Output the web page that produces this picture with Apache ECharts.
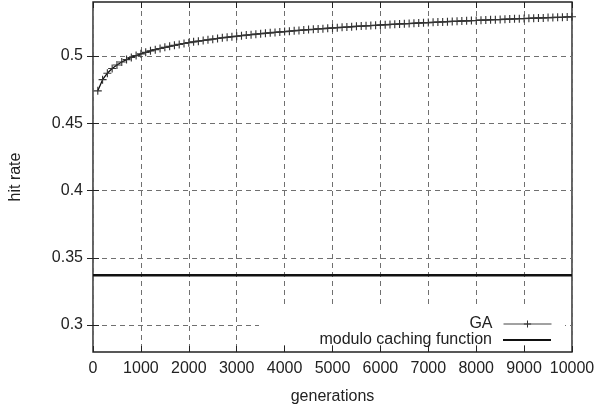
<!DOCTYPE html>
<html lang="en">
<head>
<meta charset="UTF-8">
<title>hit rate</title>
<script src="https://cdn.jsdelivr.net/npm/echarts@6/dist/echarts.min.js"></script>
<style>
  html, body { margin: 0; padding: 0; background: #fff; }
</style>
</head>
<body>
<div id="chartmain" style="width:598px; height:406px;"></div>
<script type="text/javascript">

    // generations (x) of the GA samples
    var generations = [
        100, 200, 300, 400, 500, 600, 700, 800, 900, 1000,
        1100, 1200, 1300, 1400, 1500, 1600, 1700, 1800, 1900, 2000,
        2100, 2200, 2300, 2400, 2500, 2600, 2700, 2800, 2900, 3000,
        3100, 3200, 3300, 3400, 3500, 3600, 3700, 3800, 3900, 4000,
        4100, 4200, 4300, 4400, 4500, 4600, 4700, 4800, 4900, 5000,
        5100, 5200, 5300, 5400, 5500, 5600, 5700, 5800, 5900, 6000,
        6100, 6200, 6300, 6400, 6500, 6600, 6700, 6800, 6900, 7000,
        7100, 7200, 7300, 7400, 7500, 7600, 7700, 7800, 7900, 8000,
        8100, 8200, 8300, 8400, 8500, 8600, 8700, 8800, 8900, 9000,
        9100, 9200, 9300, 9400, 9500, 9600, 9700, 9800, 9900, 10000
    ];
    // GA hit rate
    var gaHitRate = [
        0.4740, 0.4823, 0.4871, 0.4906, 0.4932, 0.4954, 0.4972, 0.4988, 0.5002, 0.5015,
        0.5026, 0.5037, 0.5046, 0.5055, 0.5063, 0.5071, 0.5078, 0.5085, 0.5092, 0.5098,
        0.5104, 0.5109, 0.5114, 0.5119, 0.5124, 0.5129, 0.5134, 0.5138, 0.5142, 0.5146,
        0.5150, 0.5154, 0.5157, 0.5161, 0.5165, 0.5168, 0.5171, 0.5174, 0.5177, 0.5180,
        0.5183, 0.5186, 0.5189, 0.5192, 0.5195, 0.5197, 0.5200, 0.5202, 0.5205, 0.5207,
        0.5209, 0.5212, 0.5214, 0.5216, 0.5219, 0.5221, 0.5223, 0.5225, 0.5227, 0.5229,
        0.5231, 0.5233, 0.5235, 0.5237, 0.5238, 0.5240, 0.5242, 0.5244, 0.5246, 0.5247,
        0.5249, 0.5251, 0.5252, 0.5254, 0.5256, 0.5257, 0.5259, 0.5260, 0.5262, 0.5263,
        0.5265, 0.5266, 0.5268, 0.5269, 0.5270, 0.5272, 0.5273, 0.5275, 0.5276, 0.5277,
        0.5279, 0.5280, 0.5281, 0.5282, 0.5284, 0.5285, 0.5286, 0.5287, 0.5289, 0.5290
    ];
    // modulo caching function (constant)
    var moduloX = [0, 10000];
    var moduloHitRate = [0.337, 0.337];

    var yTicks = [0.3, 0.35, 0.4, 0.45, 0.5];

    var gaData = [];
    for (var i = 0; i < generations.length; i++) {
        gaData.push([generations[i], gaHitRate[i]]);
    }
    var moduloData = [];
    for (var j = 0; j < moduloX.length; j++) {
        moduloData.push([moduloX[j], moduloHitRate[j]]);
    }

    var font = "'Liberation Sans', Arial, sans-serif";
    var gridDash = { color: '#707070', type: [5, 4], width: 1 };
    var plus = 'path://M4.3,0h1.4v4.3h4.3v1.4h-4.3v4.3h-1.4v-4.3h-4.3v-1.4h4.3z';

    var option = {
        animation: false,
        backgroundColor: '#fff',
        textStyle: { fontFamily: font },
        grid: {
            left: 93, right: 26, top: 2, bottom: 54,
            outerBoundsMode: 'none',
            show: true, borderColor: '#222', borderWidth: 1.4,
            backgroundColor: 'transparent'
        },
        legend: [{
            data: ['GA'],
            right: 46, top: 316,
            align: 'right', padding: 0, itemWidth: 48, itemHeight: 9,
            textStyle: { fontFamily: font, fontSize: 16, color: '#222', padding: [0, 6, 0, 0] },
            lineStyle: { width: 1, color: '#444' },
            z: 10
        }, {
            data: ['modulo caching function'],
            right: 46, top: 332,
            align: 'right', padding: 0, itemWidth: 48, itemHeight: 9,
            textStyle: { fontFamily: font, fontSize: 16, color: '#222', padding: [0, 6, 0, 0] },
            itemStyle: { opacity: 0 },
            z: 10
        }],
        graphic: [{
            type: 'rect', z: 5,
            shape: { x: 259, y: 308, width: 306, height: 37 },
            style: { fill: '#fff' }
        }],
        xAxis: [{
            type: 'value', min: 0, max: 10000, interval: 1000,
            name: 'generations', nameLocation: 'middle', nameGap: 37,
            nameTextStyle: { fontFamily: font, fontSize: 16, color: '#222' },
            axisLine: { show: false },
            axisTick: { show: true, inside: true, length: 6, lineStyle: { color: '#222' } },
            axisLabel: {
                fontFamily: font, fontSize: 16, color: '#222', margin: 9,
                formatter: function (v) { return String(v); }
            },
            splitLine: { show: true, lineStyle: gridDash }
        }, {
            type: 'value', min: 0, max: 10000, interval: 1000, position: 'top',
            axisLine: { show: false },
            axisTick: { show: true, inside: true, length: 6, lineStyle: { color: '#222' } },
            axisLabel: { show: false },
            splitLine: { show: false }
        }],
        yAxis: [{
            type: 'value', min: 0.28, max: 0.54,
            name: 'hit rate', nameLocation: 'middle', nameGap: 69,
            nameTextStyle: { fontFamily: font, fontSize: 16, color: '#222' },
            axisLine: { show: false },
            axisTick: { show: true, inside: true, length: 6, lineStyle: { color: '#222' }, customValues: yTicks },
            axisLabel: { fontFamily: font, fontSize: 16, color: '#222', margin: 10, customValues: yTicks },
            splitLine: { show: true, lineStyle: gridDash }
        }, {
            type: 'value', min: 0.28, max: 0.54, position: 'right',
            axisLine: { show: false },
            axisTick: { show: true, inside: true, length: 6, lineStyle: { color: '#222' }, customValues: yTicks },
            axisLabel: { show: false, customValues: yTicks },
            splitLine: { show: false }
        }],
        series: [{
            name: 'GA',
            type: 'line',
            data: gaData,
            symbol: plus,
            symbolSize: 8,
            showAllSymbol: true,
            itemStyle: { color: '#333' },
            lineStyle: { color: '#111', width: 1.3 },
            z: 6
        }, {
            name: 'modulo caching function',
            type: 'line',
            data: moduloData,
            symbol: 'none',
            itemStyle: { color: '#111' },
            lineStyle: { color: '#111', width: 2.6 },
            z: 6
        }]
    };

    var myChart = echarts.init(document.getElementById('chartmain'));
    myChart.setOption(option);

</script>
</body>
</html>
